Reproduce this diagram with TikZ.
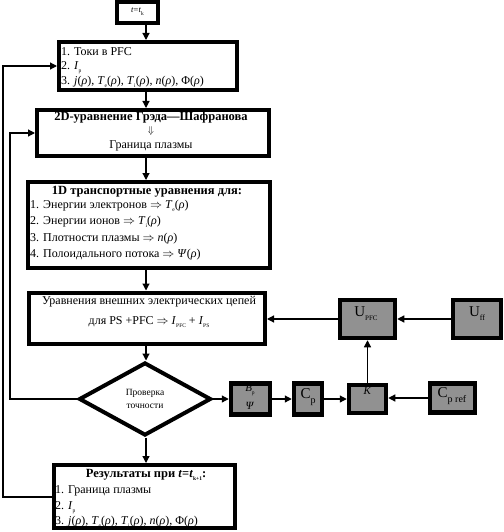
\documentclass[tikz,border=0pt]{standalone}
\usepackage{fontspec}
\setmainfont{Liberation Serif}
\usetikzlibrary{arrows.meta,shapes.geometric}
\definecolor{boxgray}{RGB}{145,145,145}
\newcommand{\sbx}[1]{\raisebox{-3pt}{\fontsize{5.5}{5.5}\selectfont #1}}
\tikzset{
  mainbox/.style={draw, line width=4pt, inner sep=0pt},
  graybox/.style={draw, line width=4.5pt, fill=boxgray, inner sep=0pt},
  conn/.style={line width=1.2pt},
  arr/.style={conn, -{Triangle[length=7pt,width=7pt]}},
  txt/.style={inner sep=0pt, font=\fontsize{12}{15}\selectfont},
  btxt/.style={inner sep=0pt, font=\fontsize{12.5}{14}\selectfont\bfseries},
  bigtxt/.style={inner sep=0pt, font=\fontsize{15}{15}\selectfont},
}
\begin{document}
\begin{tikzpicture}[x=1pt,y=-1pt]
\useasboundingbox (0,0) rectangle (503,532);
\clip (0,0) rectangle (503,532);

% texts of the white boxes (drawn first, borders on top)
\node[inner sep=0pt, font=\fontsize{8.5}{8.5}\selectfont] (tktxt) at (137.5,12) {\textit{t}=\textit{t}\sbx{k}};

\node[txt, anchor=west, align=left, font=\fontsize{12}{14.5}\selectfont] (b1txt) at (61,67.5)
  {1. Токи в PFC\\2. \textit{I}\sbx{p}\\3. \textit{j}(\textit{ρ}), \textit{T}\sbx{e}(\textit{ρ}), \textit{T}\sbx{i}(\textit{ρ}), \textit{n}(\textit{ρ}), Φ(\textit{ρ})};

\node[btxt] (b2t) at (151,117.5) {2D-уравнение Грэда—Шафранова};
\node[inner sep=0pt] (b2a) at (151,131) {$\Downarrow$};
\node[txt] (b2b) at (151,146) {Граница плазмы};

\node[btxt] (b3t) at (147,191.5) {1D транспортные уравнения для:};
\node[txt, anchor=west, align=left, font=\fontsize{12}{16.5}\selectfont] (b3txt) at (30,230)
  {1. Энергии электронов $\Rightarrow$ \textit{T}\sbx{e}(\textit{ρ})\\
   2. Энергии ионов $\Rightarrow$ \textit{T}\sbx{i}(\textit{ρ})\\
   3. Плотности плазмы $\Rightarrow$ \textit{n}(\textit{ρ})\\
   4. Полоидального потока $\Rightarrow$ \textit{Ψ}(\textit{ρ})};

\node[inner sep=0pt, align=center, font=\fontsize{12}{20}\selectfont] (b4txt) at (149,312)
  {Уравнения внешних электрических цепей\\для PS +PFC $\Rightarrow$ \textit{I}\sbx{PFC} + \textit{I}\sbx{PS}};

\node[inner sep=0pt, align=center, font=\fontsize{9.5}{13}\selectfont] (diatxt) at (145,399) {Проверка\\точности};

\node[btxt] (rest) at (146,474.5) {Результаты при \textit{t}=\textit{t}\sbx{k+1}:};
\node[txt, anchor=west, align=left, font=\fontsize{12}{15.5}\selectfont] (restxt) at (55,507)
  {1. Граница плазмы\\2. \textit{I}\sbx{p}\\3. \textit{j}(\textit{ρ}), \textit{T}\sbx{e}(\textit{ρ}), \textit{T}\sbx{i}(\textit{ρ}), \textit{n}(\textit{ρ}), Φ(\textit{ρ})};

% main boxes
\node[mainbox, minimum width=41pt, minimum height=21pt] (tk) at (137.5,12.5) {};
\node[mainbox, minimum width=178pt, minimum height=48pt] (b1) at (148,66) {};
\node[mainbox, minimum width=232pt, minimum height=46pt] (b2) at (153,133) {};
\node[mainbox, minimum width=242pt, minimum height=86pt] (b3) at (149,225) {};
\node[mainbox, minimum width=236pt, minimum height=51pt] (b4) at (147,318) {};
\node[diamond, draw, line width=4pt, inner sep=0pt, minimum width=132pt, minimum height=73pt] (dia) at (145,399) {};
\node[mainbox, minimum width=181pt, minimum height=63pt] (res) at (144.5,496.5) {};

% gray boxes
\node[graybox, minimum width=39pt, minimum height=31pt] (bb) at (250.5,399) {};
\node[graybox, minimum width=28pt, minimum height=31pt] (cp) at (308,399) {};
\node[graybox, minimum width=37pt, minimum height=28pt] (kk) at (367.5,399) {};
\node[graybox, minimum width=45pt, minimum height=29pt] (cpr) at (452.5,398) {};
\node[graybox, minimum width=55pt, minimum height=38pt] (upfc) at (367.5,319) {};
\node[graybox, minimum width=48pt, minimum height=38pt] (uff) at (477,319) {};

\node[inner sep=0pt, font=\fontsize{11}{11}\selectfont] (bbt1) at (250,390) {\textit{B}\sbx{p}};
\node[inner sep=0pt, font=\fontsize{11}{11}\selectfont] (bbt2) at (250,406) {\textit{Ψ}};
\node[bigtxt] (cpt) at (308,397) {C\raisebox{-5pt}{\fontsize{10}{10}\selectfont p}};
\node[inner sep=0pt, font=\fontsize{11}{11}\selectfont] (kkt) at (367.5,391) {\textit{K}};
\node[bigtxt] (cprt) at (452,396) {C\raisebox{-5pt}{\fontsize{10}{10}\selectfont p ref}};
\node[bigtxt] (upfct) at (366,314) {U\raisebox{-4pt}{\fontsize{7}{7}\selectfont PFC}};
\node[bigtxt] (ufft) at (477,314) {U\raisebox{-4pt}{\fontsize{8}{8}\selectfont ff}};

% connectors
\coordinate (ax) at (146,0);
\draw[arr] (tk.south -| ax) -- (b1.north -| ax);
\draw[arr] (b1.south -| ax) -- (b2.north -| ax);
\draw[arr] (b2.south -| ax) -- (b3.north -| ax);
\draw[arr] (b3.south -| ax) -- (b4.north -| ax);
\draw[arr] (b4.south -| ax) -- (dia.north -| ax);
\draw[arr] (dia.south -| ax) -- (res.north -| ax);

\coordinate (fbA) at (10,133);
\draw[arr] (dia.west) -| (fbA) -- (b2.west);
\coordinate (fbB) at (3,66);
\coordinate (fbC) at (3,497);
\draw[arr] (fbC -| res.west) -- (fbC) -- (fbB) -- (b1.west);

\draw[arr] (dia.east) -- (bb.west);
\draw[arr] (bb.east) -- (cp.west);
\draw[arr] (cp.east) -- (kk.west);
\draw[arr] (cpr.west) -- (cpr.west -| kk.east);
\draw[arr] (kk.north) -- (upfc.south);
\draw[arr] (uff.west) -- (upfc.east);
\draw[arr] (upfc.west) -- (upfc.west -| b4.east);
\end{tikzpicture}
\end{document}
